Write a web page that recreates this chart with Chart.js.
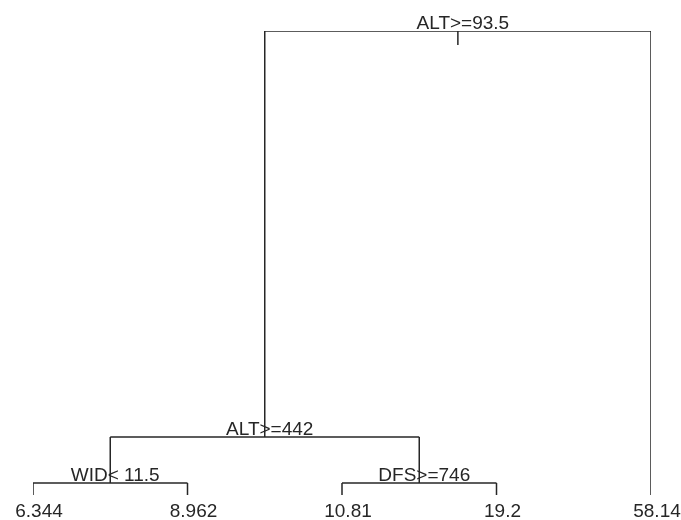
<!DOCTYPE html>
<html>
<head>
<meta charset="utf-8">
<script src="https://cdn.jsdelivr.net/npm/chart.js@4.4.1/dist/chart.umd.min.js"></script>
<style>
    html, body { margin: 0; padding: 0; background: #fff; }
    #wrap { width: 681px; height: 520px; }
</style>
</head>
<body>
<div id="wrap"><canvas id="treeChart"></canvas></div>
<script>
// rpart-style node numbering: children of n are 2n and 2n+1
const nodeIds = [1, 2, 4, 8, 9, 5, 10, 11, 3];
const nodeText = ['ALT>=93.5', 'ALT>=442', 'WID< 11.5', '6.344', '8.962', 'DFS>=746', '10.81', '19.2', '58.14'];
const nodeHeight = [1, 0.125, 0.026, 0, 0, 0.026, 0, 0, 0];

const LINE_COLOR = '#262626';
const FONT = '19px "Liberation Sans", Arial, sans-serif';

class TreePlot {
    constructor() {
        this.nodes = {};
        nodeIds.forEach((id, i) => {
            this.nodes[id] = { id: id, text: nodeText[i], y: nodeHeight[i] };
        });
        this.leafCount = 0;
        this.placeX(1);
        this.chart = null;
        this.setupChart();
    }

    isLeaf(id) {
        return !this.nodes[2 * id];
    }

    // leaves get 1..n left to right, splits sit midway between children
    placeX(id) {
        const node = this.nodes[id];
        if (this.isLeaf(id)) {
            this.leafCount += 1;
            node.x = this.leafCount;
        } else {
            node.x = (this.placeX(2 * id) + this.placeX(2 * id + 1)) / 2;
        }
        return node.x;
    }

    buildSegments() {
        const segs = [];
        const root = this.nodes[1];
        segs.push([{ x: root.x, y: root.y }, { x: root.x, y: root.y - 0.03 }]);
        nodeIds.forEach(id => {
            if (this.isLeaf(id)) return;
            const p = this.nodes[id];
            const l = this.nodes[2 * id];
            const r = this.nodes[2 * id + 1];
            segs.push([{ x: l.x, y: p.y }, { x: r.x, y: p.y }]);
            segs.push([{ x: l.x, y: p.y }, { x: l.x, y: l.y }]);
            segs.push([{ x: r.x, y: p.y }, { x: r.x, y: r.y }]);
        });
        return segs.map(points => ({
            data: points,
            showLine: true,
            borderColor: LINE_COLOR,
            borderWidth: 1.5,
            pointRadius: 0,
            fill: false
        }));
    }

    labelPlugin() {
        const self = this;
        return {
            id: 'treeLabels',
            afterDatasetsDraw(chart) {
                const ctx = chart.ctx;
                const xs = chart.scales.x;
                const ys = chart.scales.y;
                ctx.save();
                ctx.font = FONT;
                ctx.fillStyle = LINE_COLOR;
                ctx.textAlign = 'center';
                ctx.textBaseline = 'alphabetic';
                nodeIds.forEach(id => {
                    const n = self.nodes[id];
                    const px = xs.getPixelForValue(n.x);
                    const py = ys.getPixelForValue(n.y);
                    if (self.isLeaf(id)) {
                        ctx.fillText(n.text, px + 6, py + 22);
                    } else {
                        ctx.fillText(n.text, px + 5, py - 2);
                    }
                });
                ctx.restore();
            }
        };
    }

    setupChart() {
        const ctx = document.getElementById('treeChart');
        this.chart = new Chart(ctx, {
            type: 'scatter',
            data: { datasets: this.buildSegments() },
            options: {
                responsive: true,
                maintainAspectRatio: false,
                animation: false,
                layout: { padding: { left: 33, right: 30, top: 31, bottom: 25 } },
                scales: {
                    x: { type: 'linear', min: 1, max: this.leafCount, display: false },
                    y: { type: 'linear', min: 0, max: 1, display: false }
                },
                plugins: {
                    legend: { display: false },
                    tooltip: { enabled: false }
                }
            },
            plugins: [this.labelPlugin()]
        });
    }
}

new TreePlot();
</script>
</body>
</html>
